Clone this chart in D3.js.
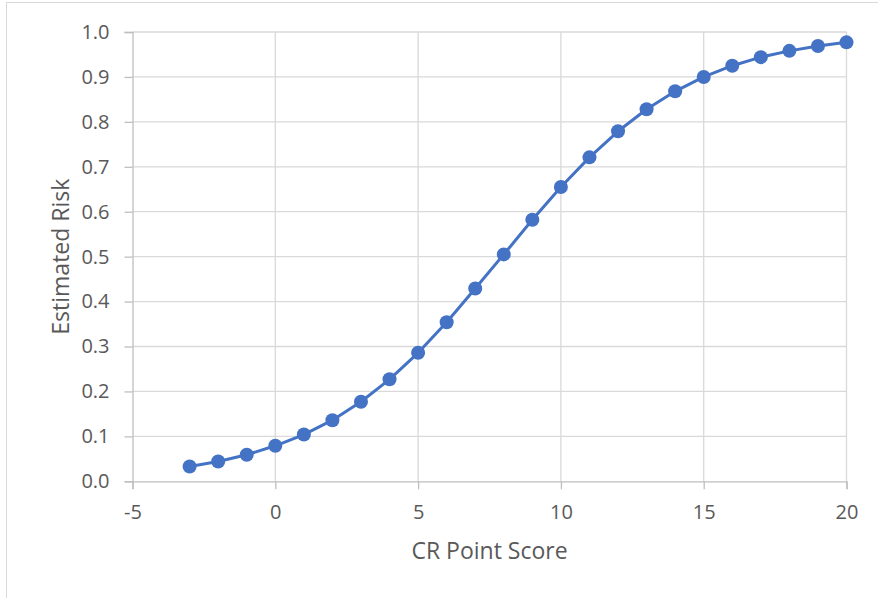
<!DOCTYPE html>
<html>
<head>
<meta charset="utf-8">
<script src="https://cdn.jsdelivr.net/npm/d3@7"></script>
<style>
  body { margin: 0; background: #fff; }
  text { font-family: "Open Sans", sans-serif; fill: #595959; }
</style>
</head>
<body>
<script>
// CR point score vs estimated risk
var scores = [-3, -2, -1, 0, 1, 2, 3, 4, 5, 6, 7, 8, 9, 10, 11, 12, 13, 14, 15, 16, 17, 18, 19, 20];
var risk = [0.033, 0.044, 0.059, 0.079, 0.104, 0.136, 0.177, 0.227, 0.286, 0.354, 0.429, 0.505,
            0.582, 0.655, 0.721, 0.779, 0.828, 0.868, 0.900, 0.925, 0.944, 0.958, 0.969, 0.977];
var xTicks = [-5, 0, 5, 10, 15, 20];
var yTicks = [0, 0.1, 0.2, 0.3, 0.4, 0.5, 0.6, 0.7, 0.8, 0.9, 1.0];

var width = 878, height = 598;
var margin = {left: 132.5, right: 31.5, top: 32, bottom: 116.7};

var svg = d3.select("body").append("svg")
    .attr("width", width)
    .attr("height", height);

// chart border
svg.append("rect")
    .attr("x", 6.5).attr("y", 2.5)
    .attr("width", 880).attr("height", 620)
    .attr("fill", "none")
    .attr("stroke", "#d9d9d9");

var x = d3.scaleLinear().domain([-5, 20]).range([margin.left, width - margin.right]);
var y = d3.scaleLinear().domain([0, 1]).range([height - margin.bottom, margin.top]);

// gridlines
svg.append("g").selectAll("line")
    .data(yTicks.slice(1))
    .enter().append("line")
    .attr("x1", x(-5)).attr("x2", x(20))
    .attr("y1", function(d) { return y(d); })
    .attr("y2", function(d) { return y(d); })
    .attr("stroke", "#d9d9d9").attr("stroke-width", 1.3);

svg.append("g").selectAll("line")
    .data(xTicks.slice(1))
    .enter().append("line")
    .attr("y1", y(0)).attr("y2", y(1))
    .attr("x1", function(d) { return x(d); })
    .attr("x2", function(d) { return x(d); })
    .attr("stroke", "#d9d9d9").attr("stroke-width", 1.3);

// axes
var xAxis = svg.append("g")
    .attr("transform", "translate(0," + y(0) + ")")
    .call(d3.axisBottom(x).tickValues(xTicks).tickSize(8).tickPadding(16)
        .tickFormat(function(d) { return String(d); }));
var yAxis = svg.append("g")
    .attr("transform", "translate(" + x(-5) + ",0)")
    .call(d3.axisLeft(y).tickValues(yTicks).tickSize(8).tickPadding(15).tickFormat(d3.format(".1f")));

[xAxis, yAxis].forEach(function(a) {
    a.attr("font-size", null).attr("font-family", null);
    a.select(".domain").attr("stroke", "#bfbfbf").attr("stroke-width", 1.3);
    a.selectAll(".tick line").attr("stroke", "#bfbfbf").attr("stroke-width", 1.3);
    a.selectAll(".tick text").style("font-size", "20px").attr("fill", "#595959");
});

// series
var pts = scores.map(function(s, i) { return [s, risk[i]]; });
svg.append("path")
    .datum(pts)
    .attr("fill", "none")
    .attr("stroke", "#4472c4")
    .attr("stroke-width", 3)
    .attr("stroke-linejoin", "round")
    .attr("d", d3.line().x(function(d) { return x(d[0]); }).y(function(d) { return y(d[1]); }));

svg.append("g").selectAll("circle")
    .data(pts)
    .enter().append("circle")
    .attr("cx", function(d) { return x(d[0]); })
    .attr("cy", function(d) { return y(d[1]); })
    .attr("r", 7)
    .attr("fill", "#4472c4");

// axis titles
svg.append("text")
    .attr("x", (x(-5) + x(20)) / 2).attr("y", 559)
    .attr("text-anchor", "middle")
    .style("font-size", "23px")
    .text("CR Point Score");

svg.append("text")
    .attr("transform", "translate(69," + (y(0) + y(1)) / 2 + ") rotate(-90)")
    .attr("text-anchor", "middle")
    .style("font-size", "23px")
    .text("Estimated Risk");
</script>
</body>
</html>
